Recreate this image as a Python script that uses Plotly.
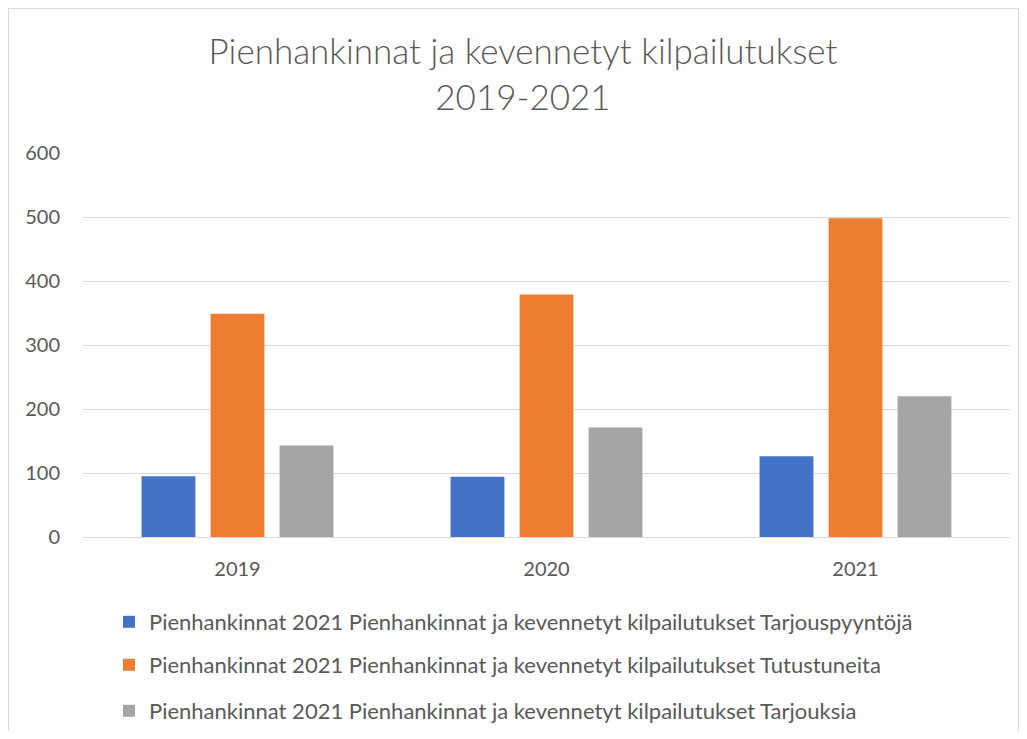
import plotly.graph_objects as go

years = ["2019", "2020", "2021"]
tarjouspyyntoja = [95, 94, 126]
tutustuneita = [349, 379, 498]
tarjouksia = [143, 171, 220]

series_names = [
    "Pienhankinnat 2021 Pienhankinnat ja kevennetyt kilpailutukset Tarjouspyyntöjä",
    "Pienhankinnat 2021 Pienhankinnat ja kevennetyt kilpailutukset Tutustuneita",
    "Pienhankinnat 2021 Pienhankinnat ja kevennetyt kilpailutukset Tarjouksia",
]
series_values = [tarjouspyyntoja, tutustuneita, tarjouksia]
colors = ["#4472C4", "#ED7D31", "#A5A5A5"]
y_ticks = [0, 100, 200, 300, 400, 500, 600]

FONT = "Lato"
TXT = "#595959"

W, H = 1011, 723
L, R, T, B = 75, 9, 145, 194
pw = W - L - R
ph = H - T - B
plot_bottom = T + ph

legend_ids = ["legend", "legend2", "legend3"]
legend_centers = [614, 657, 703]  # figure pixel rows for legend entries

fig = go.Figure()
for name, vals, col, lid in zip(series_names, series_values, colors, legend_ids):
    fig.add_trace(go.Bar(
        x=years, y=vals, name=name, marker_color=col,
        marker_line_width=0, legend=lid,
    ))

legend_layout = {}
for lid, cy in zip(legend_ids, legend_centers):
    legend_layout[lid] = dict(
        orientation="v", x=(101 - L) / pw, xanchor="left",
        y=-(cy - plot_bottom) / ph, yanchor="middle",
        font=dict(family=FONT, size=22, color=TXT),
        itemwidth=30, bgcolor="rgba(0,0,0,0)",
    )

fig.update_layout(
    width=W, height=H,
    margin=dict(l=L, r=R, t=T, b=B, autoexpand=False),
    paper_bgcolor="white", plot_bgcolor="white",
    barmode="group", bargap=0.33, bargroupgap=0.22,
    title=dict(
        text="Pienhankinnat ja kevennetyt kilpailutukset<br>2019-2021",
        x=515 / W, xanchor="center", y=1 - 56 / H, yanchor="top",
        font=dict(family=FONT, size=35, color=TXT, weight=300),
    ),
    font=dict(family=FONT, color=TXT),
    xaxis=dict(
        showgrid=False, showline=True, linecolor="#D9D9D9", linewidth=1,
        ticks="", tickfont=dict(size=20, color=TXT), ticklabelstandoff=14,
    ),
    yaxis=dict(
        range=[0, 600], tickvals=y_ticks, showgrid=True, gridcolor="#D9D9D9",
        gridwidth=1, zeroline=False, showline=False, ticks="",
        tickfont=dict(size=20, color=TXT), ticklabelstandoff=22,
    ),
    showlegend=True,
    **legend_layout,
)

# outer chart border (left, top, right)
x_left = -(L - 0.5) / pw
x_right = 1 + (R - 0.5) / pw
y_top = 1 + (T - 0.5) / ph
y_bot = -B / ph
for x0, y0, x1, y1 in [
    (x_left, y_bot, x_left, y_top),
    (x_left, y_top, x_right, y_top),
    (x_right, y_top, x_right, y_bot),
]:
    fig.add_shape(type="line", xref="paper", yref="paper",
                  x0=x0, y0=y0, x1=x1, y1=y1,
                  line=dict(color="#D9D9D9", width=1), layer="below")

fig.write_html("out.html")
